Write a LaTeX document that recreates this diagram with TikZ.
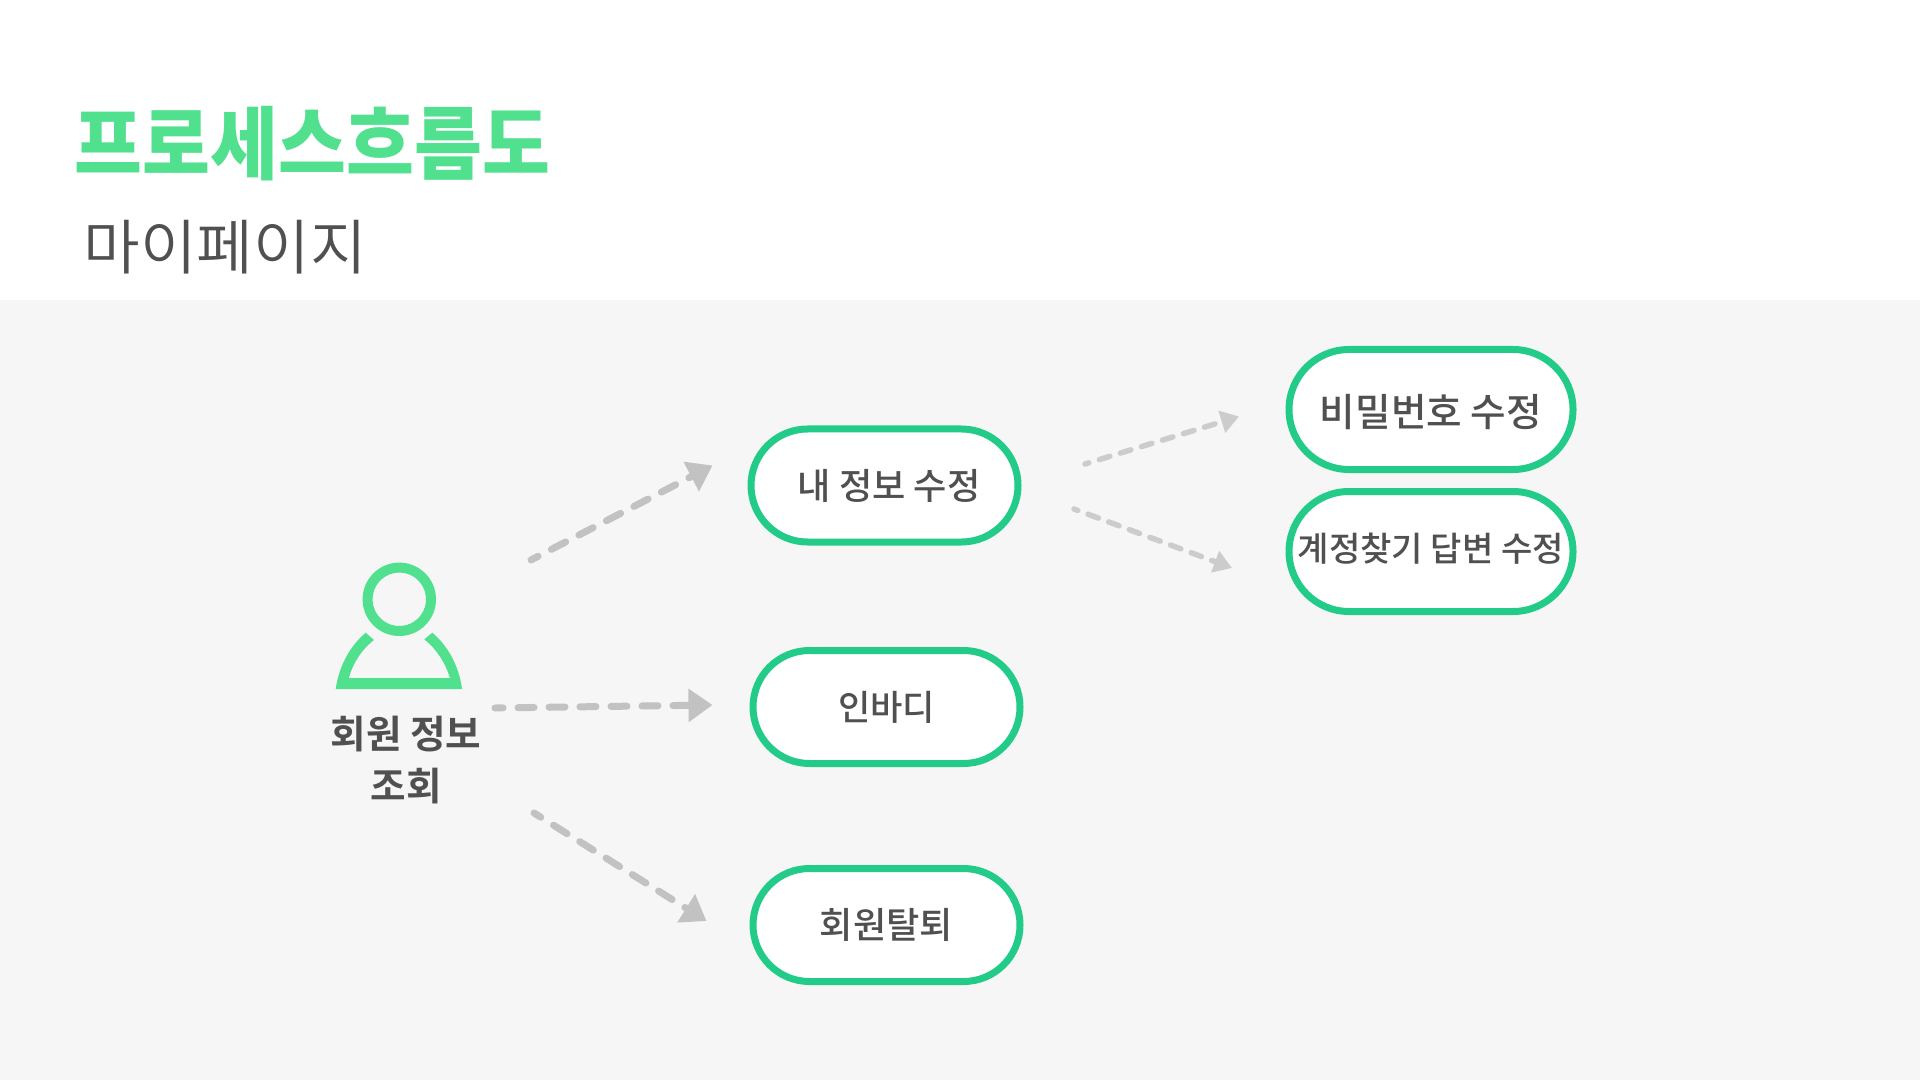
\documentclass[tikz,border=0pt]{standalone}
\usepackage{fontspec}
\setmainfont{Noto Sans CJK KR Medium}[BoldFont=Noto Sans CJK KR Bold]
\newfontfamily\headfont{Noto Sans CJK KR Black}
\newfontfamily\subfont{Noto Sans CJK KR DemiLight}
\usepackage{tikz}
\usetikzlibrary{shapes.misc,arrows.meta,positioning}
\definecolor{headgreen}{HTML}{50E08E}
\definecolor{pillgreen}{HTML}{22CC88}
\definecolor{textgrey}{HTML}{505050}
\definecolor{bandgrey}{HTML}{F6F6F6}
\definecolor{arrowgrey}{HTML}{C2C2C2}
\definecolor{arrowpale}{HTML}{CCCCCC}
\tikzset{
    pill/.style={draw=pillgreen,fill=white,line width=.07cm,rounded rectangle,minimum width=2.67cm,minimum height=1.13cm,inner sep=0pt,text=textgrey,font=\fontsize{10.3pt}{12pt}\selectfont},
    bigpill/.style={pill,minimum width=2.84cm,minimum height=1.2cm},
    flow/.style={arrowgrey,line width=.07cm,line cap=round,dash pattern=on .16cm off .15cm,dash phase=.08cm,-{Triangle[length=.24cm,width=.32cm]}},
    subflow/.style={arrowpale,line width=.055cm,line cap=round,dash pattern=on .11cm off .11cm,dash phase=.07cm,-{Triangle[length=.18cm,width=.22cm]}}
}

\begin{document}
\begin{tikzpicture}[y=-1cm]
    \useasboundingbox (0,0) rectangle (19.2,10.8);
    \fill[bandgrey] (0,3) rectangle (19.2,10.8);
    \node[font=\fontsize{21pt}{24pt}\selectfont\headfont,text=headgreen,anchor=west,inner sep=0pt,yscale=1.08] (title) at (.74,1.44) {프로세스흐름도};
    \node[font=\fontsize{17pt}{20pt}\selectfont\subfont,text=textgrey,anchor=west,inner sep=0pt,xscale=1.03] (subtitle) at (.83,2.47) {마이페이지};

    % person icon
    \draw[headgreen,line width=.1cm] (3.993,5.993) circle (.317);
    \fill[headgreen] (3.357,6.89) .. controls (3.39,6.66) and (3.5,6.46) .. (3.657,6.327) -- (3.74,6.4) .. controls (3.62,6.49) and (3.53,6.63) .. (3.487,6.78) -- (4.5,6.78) .. controls (4.455,6.63) and (4.365,6.49) .. (4.243,6.393) -- (4.323,6.327) .. controls (4.48,6.46) and (4.59,6.66) .. (4.62,6.89) -- cycle;
    \node[font=\fontsize{11pt}{14.9pt}\selectfont\bfseries,text=textgrey,align=center,inner sep=0pt] (member) at (4.06,7.6) {회원 정보\\조회};

    \node[pill] (info) at (8.845,4.855) {\hspace*{.09cm}내 정보 수정};
    \node[pill,font=\fontsize{10pt}{12pt}\selectfont] (inbody) at (8.865,7.07) {인바디};
    \node[pill] (leave) [below=.98cm of inbody] {회원탈퇴};
    \node[bigpill,font=\fontsize{11pt}{13pt}\selectfont,text height=.37cm,text depth=.026cm] (password) at (14.31,4.095) {비밀번호 수정};
    \node[bigpill,font=\fontsize{9.7pt}{11pt}\selectfont,text height=.3cm,text depth=.11cm] (answer) at (14.31,5.515) {계정찾기 답변 수정};

    \coordinate (infofrom) at (5.31,5.6);
    \coordinate (infoto) at ([xshift=-.35cm,yshift=.2cm]info.west);
    \coordinate (inbodyfrom) at (4.95,7.08);
    \coordinate (inbodyto) at ([xshift=-.37cm,yshift=.02cm]inbody.west);
    \coordinate (leavefrom) at (5.34,8.13);
    \coordinate (leaveto) at ([xshift=-.43cm,yshift=.04cm]leave.west);
    \coordinate (passwordfrom) at (10.85,4.64);
    \coordinate (passwordto) at ([xshift=-.465cm,yshift=-.07cm]password.west);
    \coordinate (answerfrom) at (10.74,5.09);
    \coordinate (answerto) at ([xshift=-.535cm,yshift=-.165cm]answer.west);

    \draw[flow] (infofrom) -- (infoto);
    \draw[flow] (inbodyfrom) -- (inbodyto);
    \draw[flow] (leavefrom) -- (leaveto);
    \draw[subflow] (passwordfrom) -- (passwordto);
    \draw[subflow] (answerfrom) -- (answerto);
\end{tikzpicture}
\end{document}
